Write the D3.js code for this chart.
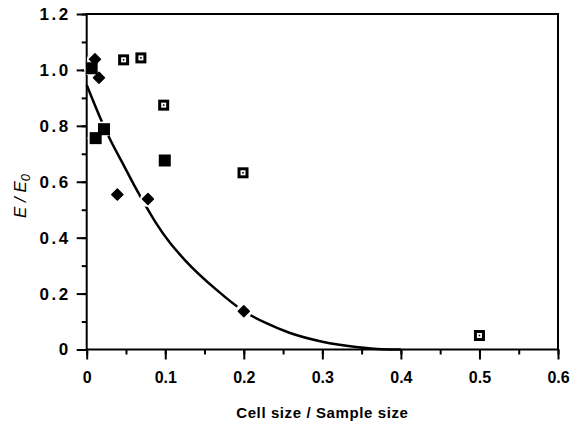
<!DOCTYPE html>
<html>
<head>
<meta charset="utf-8">
<script src="https://cdn.jsdelivr.net/npm/d3@7"></script>
<style>
  body { margin: 0; background: #fff; }
  svg text { font-family: "Liberation Sans", Arial, sans-serif; fill: #000; }
</style>
</head>
<body>
<svg id="canvas" width="578" height="427"></svg>
<script>
// values
const openSqX = [0.047, 0.069, 0.098, 0.199, 0.5]
const openSqY = [1.036, 1.043, 0.874, 0.632, 0.05]

const filledSqX = [0.0063, 0.0114, 0.022, 0.0994]
const filledSqY = [1.006, 0.756, 0.788, 0.676]

const diamondX = [0.0105, 0.0156, 0.039, 0.078, 0.2]
const diamondY = [1.038, 0.972, 0.554, 0.538, 0.137]

// fitted curve
const curveX = [0, 0.017, 0.03, 0.045, 0.06, 0.075, 0.09, 0.105, 0.125, 0.165, 0.2, 0.228, 0.258, 0.3, 0.343, 0.376, 0.4]
const curveY = [0.946, 0.83, 0.75, 0.67, 0.59, 0.515, 0.445, 0.385, 0.32, 0.214, 0.137, 0.095, 0.06, 0.028, 0.009, 0.001, 0.0]

const xTicks = [0, 0.1, 0.2, 0.3, 0.4, 0.5, 0.6]
const yTicks = [0, 0.2, 0.4, 0.6, 0.8, 1.0, 1.2]

let canvas = d3.select("#canvas")

let x = d3.scaleLinear().domain([0, 0.6]).range([86.7, 558])
let y = d3.scaleLinear().domain([0, 1.2]).range([349.5, 14])

let zip = (xs, ys) => xs.map((v, i) => [v, ys[i]])
let fmt = d => d === 0 ? '0' : d3.format('.1f')(d)

// frame
canvas.append('rect')
    .attr('x', x(0)).attr('y', y(1.2))
    .attr('width', x(0.6) - x(0)).attr('height', y(0) - y(1.2))
    .attr('fill', 'none').attr('stroke', '#000').attr('stroke-width', 2)

// x axis ticks (major + minor) pointing down
let xAxis = canvas.append('g').attr('transform', 'translate(0,' + y(0) + ')')
xAxis.call(d3.axisBottom(x).tickValues(d3.range(0, 0.6001, 0.05)).tickSize(5).tickFormat(''))
xAxis.append('g').call(d3.axisBottom(x).tickValues(xTicks).tickSize(10).tickPadding(12).tickFormat(fmt))
xAxis.selectAll('.domain').remove()
xAxis.selectAll('line').attr('stroke', '#000').attr('stroke-width', 2)
xAxis.selectAll('text').attr('font-size', 16).attr('font-weight', 'bold').attr('fill', '#000')
    .style('font-family', '"Liberation Sans", Arial, sans-serif')

// y axis ticks pointing left
let yAxis = canvas.append('g').attr('transform', 'translate(' + x(0) + ',0)')
yAxis.call(d3.axisLeft(y).tickValues(d3.range(0, 1.2001, 0.1)).tickSize(5).tickFormat(''))
yAxis.append('g').call(d3.axisLeft(y).tickValues(yTicks).tickSize(10).tickPadding(6).tickFormat(fmt))
yAxis.selectAll('.domain').remove()
yAxis.selectAll('line').attr('stroke', '#000').attr('stroke-width', 2)
yAxis.selectAll('text').attr('font-size', 17).attr('font-weight', 'bold').attr('fill', '#000')
    .attr('letter-spacing', 2.5)
    .style('font-family', '"Liberation Sans", Arial, sans-serif')

// curve
let line = d3.line().x(d => x(d[0])).y(d => y(d[1])).curve(d3.curveMonotoneX)
canvas.append('path')
    .datum(zip(curveX, curveY))
    .attr('d', line)
    .attr('fill', 'none').attr('stroke', '#000').attr('stroke-width', 2.5)

let allPts = zip(openSqX, openSqY).concat(zip(filledSqX, filledSqY)).concat(zip(diamondX, diamondY))

// white halos under markers (they cut the curve)
canvas.append('g').selectAll('circle')
    .data(allPts).enter().append('circle')
    .attr('cx', d => x(d[0])).attr('cy', d => y(d[1]))
    .attr('r', 8).attr('fill', '#fff')

// open squares with dot
let openG = canvas.append('g').selectAll('g')
    .data(zip(openSqX, openSqY)).enter().append('g')
    .attr('transform', d => 'translate(' + x(d[0]) + ',' + y(d[1]) + ')')
openG.append('rect').attr('x', -5.5).attr('y', -5.5).attr('width', 11).attr('height', 11).attr('fill', '#000')
openG.append('rect').attr('x', -2.5).attr('y', -2.5).attr('width', 5).attr('height', 5).attr('fill', '#fff')
openG.append('rect').attr('x', -0.8).attr('y', -0.8).attr('width', 1.6).attr('height', 1.6).attr('fill', '#000')

// filled squares
canvas.append('g').selectAll('rect')
    .data(zip(filledSqX, filledSqY)).enter().append('rect')
    .attr('x', d => x(d[0]) - 6).attr('y', d => y(d[1]) - 6)
    .attr('width', 12).attr('height', 12).attr('fill', '#000')

// diamonds
canvas.append('g').selectAll('path')
    .data(zip(diamondX, diamondY)).enter().append('path')
    .attr('d', d3.symbol().type(d3.symbolSquare).size(60))
    .attr('transform', d => 'translate(' + x(d[0]) + ',' + y(d[1]) + ') rotate(45)')
    .attr('fill', '#000').attr('stroke', '#000').attr('stroke-width', 1.5).attr('stroke-linejoin', 'round')

// axis titles
canvas.append('text')
    .attr('x', (x(0) + x(0.6)) / 2).attr('y', 418)
    .attr('text-anchor', 'middle').attr('font-size', 15).attr('font-weight', 'bold')
    .attr('letter-spacing', 0.6).attr('fill', '#000')
    .text('Cell size / Sample size')

let yTitle = canvas.append('text')
    .attr('transform', 'translate(26,196) rotate(-90)')
    .attr('text-anchor', 'middle').attr('font-size', 17).attr('font-style', 'italic')
    .attr('fill', '#000')
yTitle.append('tspan').text('E / E')
yTitle.append('tspan').attr('font-size', 13).attr('dy', 4).text('0')
</script>
</body>
</html>
